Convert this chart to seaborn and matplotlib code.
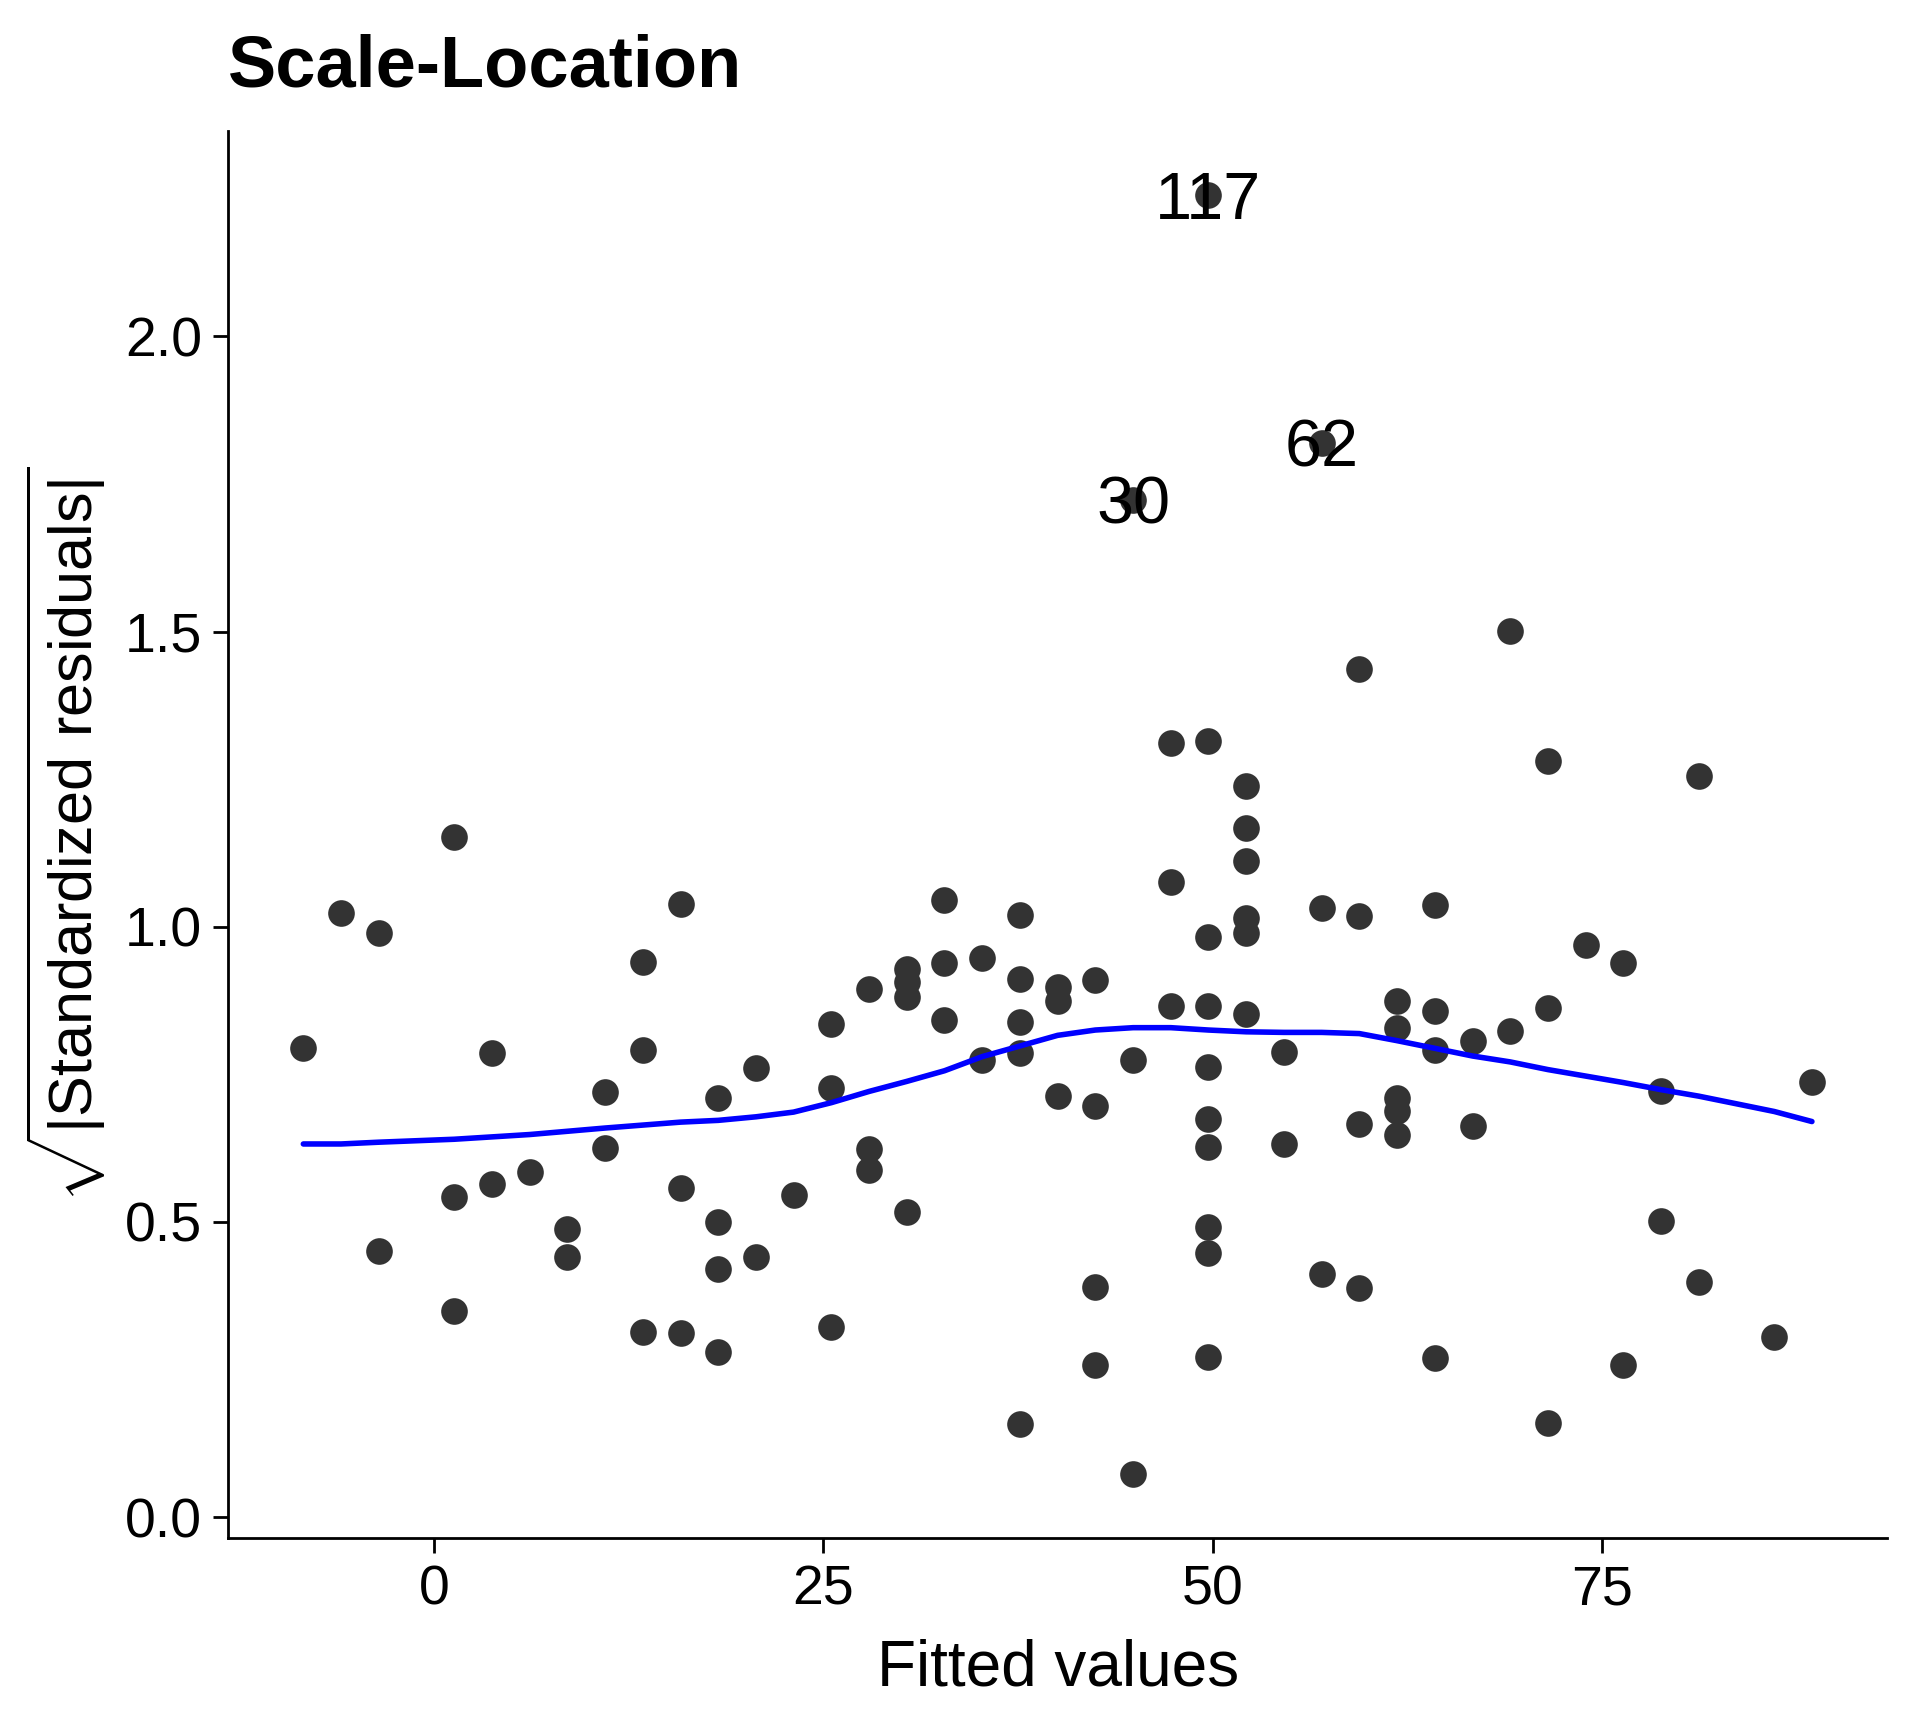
import matplotlib
matplotlib.use("Agg")
import matplotlib.pyplot as plt
import seaborn as sns
import pandas as pd

# fitted values and sqrt(|standardized residuals|)
fitted = [
    -8.40,
    -5.98,
    -3.56, -3.56,
    1.29, 1.29, 1.29,
    3.71, 3.71,
    6.14,
    8.56, 8.56,
    10.98, 10.98,
    13.40, 13.40, 13.40,
    15.83, 15.83, 15.83,
    18.25, 18.25, 18.25, 18.25,
    20.67, 20.67,
    23.09,
    25.52, 25.52, 25.52,
    27.94, 27.94, 27.94,
    30.36, 30.36, 30.36, 30.36,
    32.78, 32.78, 32.78,
    35.21, 35.21,
    37.63, 37.63, 37.63, 37.63, 37.63,
    40.05, 40.05, 40.05,
    42.47, 42.47, 42.47, 42.47,
    44.90, 44.90, 44.90,
    47.32, 47.32, 47.32,
    49.74, 49.74, 49.74, 49.74, 49.74, 49.74, 49.74, 49.74, 49.74, 49.74,
    52.16, 52.16, 52.16, 52.16, 52.16, 52.16,
    54.59, 54.59,
    57.01, 57.01, 57.01,
    59.43, 59.43, 59.43, 59.43,
    61.85, 61.85, 61.85, 61.85, 61.85,
    64.28, 64.28, 64.28, 64.28,
    66.70, 66.70,
    69.12, 69.12,
    71.54, 71.54, 71.54,
    73.97,
    76.39, 76.39,
    78.81, 78.81,
    81.23, 81.23,
    86.08,
    88.50,
]
sqrt_resid = [
    0.795,
    1.023,
    0.990, 0.451,
    1.152, 0.542, 0.349,
    0.786, 0.564,
    0.585,
    0.488, 0.441,
    0.720, 0.625,
    0.940, 0.792, 0.313,
    1.038, 0.557, 0.312,
    0.710, 0.499, 0.421, 0.280,
    0.761, 0.441,
    0.545,
    0.835, 0.727, 0.322,
    0.895, 0.623, 0.588,
    0.929, 0.906, 0.881, 0.517,
    1.045, 0.938, 0.842,
    0.947, 0.775,
    1.020, 0.911, 0.839, 0.786, 0.157,
    0.898, 0.874, 0.713,
    0.909, 0.697, 0.389, 0.257,
    1.723, 0.774, 0.073,
    1.311, 1.076, 0.865,
    2.239, 1.315, 0.982, 0.866, 0.763, 0.674, 0.627, 0.492, 0.447, 0.271,
    1.238, 1.168, 1.112, 1.015, 0.990, 0.853,
    0.787, 0.632,
    1.820, 1.031, 0.411,
    1.436, 1.019, 0.666, 0.388,
    0.875, 0.828, 0.710, 0.688, 0.648,
    1.037, 0.858, 0.791, 0.269,
    0.807, 0.662,
    1.501, 0.823,
    1.280, 0.862, 0.159,
    0.969,
    0.938, 0.258,
    0.721, 0.501,
    1.255, 0.399,
    0.305,
    0.737,
]

# loess smoother
smooth_x = [-8.40, -5.98, -3.56, 1.29, 6.14, 10.98, 15.83, 18.25, 20.67, 23.09,
            25.52, 27.94, 30.36, 32.78, 35.21, 37.63, 40.05, 42.47, 44.90, 47.32,
            49.74, 52.16, 54.59, 57.01, 59.43, 61.85, 64.28, 66.70, 69.12, 71.54,
            73.97, 76.39, 78.81, 81.23, 83.66, 86.08, 88.50]
smooth_y = [0.632, 0.632, 0.635, 0.640, 0.648, 0.659, 0.669, 0.672, 0.678, 0.686,
            0.702, 0.721, 0.738, 0.756, 0.780, 0.798, 0.816, 0.825, 0.829, 0.829,
            0.825, 0.822, 0.821, 0.821, 0.819, 0.807, 0.794, 0.781, 0.771, 0.758,
            0.747, 0.736, 0.724, 0.713, 0.700, 0.687, 0.670]

# labelled outliers
label_ids = ["117", "62", "30"]
label_x = [49.74, 57.01, 44.90]
label_y = [2.239, 1.820, 1.723]

df = pd.DataFrame({"fitted": fitted, "resid": sqrt_resid})
smooth = pd.DataFrame({"x": smooth_x, "y": smooth_y})

sns.set_theme(style="ticks")
plt.rcParams["font.family"] = ["Liberation Sans", "DejaVu Sans"]
plt.rcParams["mathtext.fontset"] = "custom"
plt.rcParams["mathtext.rm"] = "Liberation Sans"
plt.rcParams["text.color"] = "black"
plt.rcParams["axes.labelcolor"] = "black"

fig, ax = plt.subplots(figsize=(9.6, 8.64), dpi=200)
fig.subplots_adjust(left=0.1187, right=0.983, bottom=0.110, top=0.924)

sns.scatterplot(data=df, x="fitted", y="resid", color="#333333", s=92,
                linewidth=0, ax=ax, zorder=2)
sns.lineplot(data=smooth, x="x", y="y", color="blue", linewidth=2.0, ax=ax, zorder=3)

for lab, lx, ly in zip(label_ids, label_x, label_y):
    ax.text(lx, ly, lab, ha="center", va="center_baseline", fontsize=24,
            color="black", zorder=4)

ax.set_xticks([0, 25, 50, 75])
ax.set_yticks([0.0, 0.5, 1.0, 1.5, 2.0])
ax.set_xlabel("Fitted values", fontsize=23, labelpad=8)
ax.set_ylabel(r"$\sqrt{|\mathrm{Standardized\ residuals}|}$", fontsize=22, labelpad=6)
ax.set_title("Scale-Location", loc="left", fontsize=26, fontweight="bold",
             pad=16, color="black")
ax.tick_params(labelsize=20, length=5.4, width=1.0, pad=4, colors="black")
for sp in ["left", "bottom"]:
    ax.spines[sp].set_linewidth(1.0)
    ax.spines[sp].set_color("black")
sns.despine(ax=ax)

fig.savefig("out.png", dpi=200)
